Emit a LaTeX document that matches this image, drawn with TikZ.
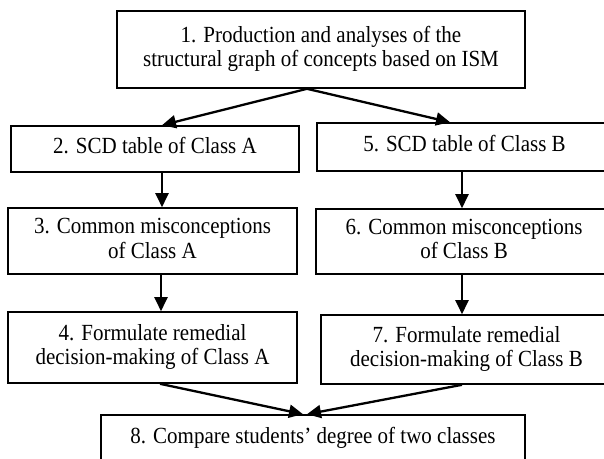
\documentclass[tikz,border=0pt]{standalone}
\usepackage{fontspec}
\setmainfont{Liberation Serif}
\usepackage{graphicx}
\usetikzlibrary{arrows.meta}
% the reference text is a little taller than it is wide
\newcommand{\tall}[1]{\scalebox{1}[1.1]{\begin{tabular}{@{}c@{}}#1\end{tabular}}}

\begin{document}
\begin{tikzpicture}[x=1pt, y=-1pt,
  box/.style={draw, line width=1.6pt, inner sep=0pt, font=\fontsize{21}{22.7}\selectfont},
  flow/.style={-{Triangle[length=14pt,width=13pt]}, line width=2.3pt}]
\useasboundingbox (0,0) rectangle (604,458);
\node[box, minimum width=408, minimum height=77] (ism) at (321,49.5) {\tall{1. Production and analyses of the\\structural graph of concepts based on ISM}};
\node[box, minimum width=288, minimum height=46] (tabA) at (155,149) {\tall{2. SCD table of Class A}};
\node[box, minimum width=295, minimum height=48] (tabB) at (464.5,147) {\tall{5. SCD table of Class B}};
\node[box, minimum width=289, minimum height=66] (misA) at (152.5,241) {\tall{3. Common misconceptions\\of Class A}};
\node[box, minimum width=296, minimum height=65] (misB) at (464,241.5) {\tall{6. Common misconceptions\\of Class B}};
\node[box, minimum width=289, minimum height=71] (remA) at (152.5,347.5) {\tall{4. Formulate remedial\\decision-making of Class A}};
\node[box, minimum width=291, minimum height=69] (remB) at (466.5,349.5) {\tall{7. Formulate remedial\\decision-making of Class B}};
\node[box, minimum width=424, minimum height=47] (cmp) at (313,438.5) {\tall{8. Compare students' degree of two classes}};

\draw[flow] ([xshift=-14pt]ism.south) -- ([xshift=7pt]tabA.north);
\draw[flow] ([xshift=-14pt]ism.south) -- ([xshift=-14.5pt]tabB.north);
\draw[flow] ([xshift=7pt]tabA.south) -- ([xshift=9.5pt]misA.north);
\draw[flow] ([xshift=-2.5pt]tabB.south) -- ([xshift=-2pt]misB.north);
\draw[flow] ([xshift=8.5pt]misA.south) -- ([xshift=8.5pt]remA.north);
\draw[flow] ([xshift=-2pt]misB.south) -- ([xshift=-4.5pt]remB.north);
\draw[flow] ([xshift=7.5pt]remA.south) -- ([xshift=-10pt]cmp.north);
\draw[flow] ([xshift=-4.5pt]remB.south) -- ([xshift=-6pt]cmp.north);

\end{tikzpicture}
\end{document}
